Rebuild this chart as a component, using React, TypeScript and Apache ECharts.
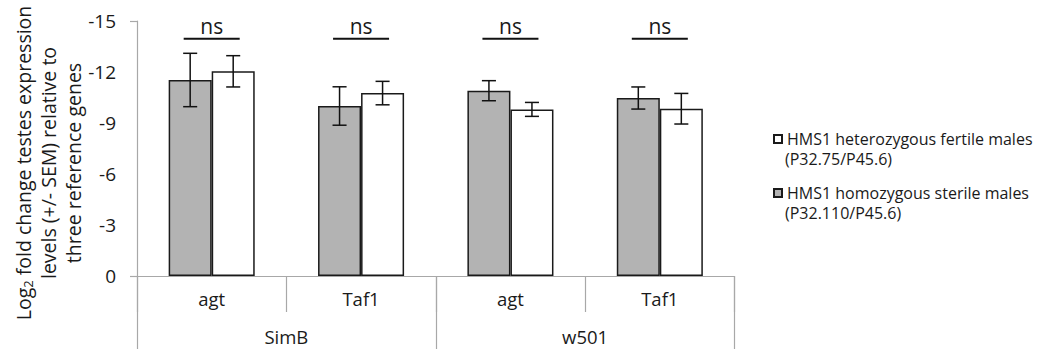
import React, { useEffect, useRef } from "react";
import * as echarts from "echarts";

const subCategories = ["agt", "Taf1", "agt", "Taf1"];
const groups = ["SimB", "w501"];
const yTicks = [-15, 0];

const sterileName = "HMS1 homozygous sterile males\n(P32.110/P45.6)";
const fertileName = "HMS1 heterozygous fertile males\n(P32.75/P45.6)";
const legendOrder = [fertileName, sterileName];

const sterileMeans = [-11.53, -10.0, -10.9, -10.47];
const sterileSem = [1.57, 1.13, 0.59, 0.65];
const fertileMeans = [-12.04, -10.76, -9.8, -9.84];
const fertileSem = [0.92, 0.69, 0.41, 0.9];

const nsLabels = ["ns", "ns", "ns", "ns"];

const FONT = "'Open Sans', sans-serif";
const TEXT = "#1a1a1a";
const AXIS = "#a8a8a8";

const LEGEND_TOP = 130;
const LEGEND_LINE = 18;
const LEGEND_STEP = 54;

function errorRenderer(offsetFrac: number) {
  return (params: any, api: any) => {
    const idx = api.value(0);
    const v = api.value(1);
    const e = api.value(2);
    const band = api.size([1, 0])[0];
    const cx = api.coord([idx, v])[0] + offsetFrac * band;
    const yTop = api.coord([idx, v - e])[1];
    const yBot = api.coord([idx, v + e])[1];
    const cap = band * 0.047;
    const style = { stroke: "#111", lineWidth: 1.5 };
    return {
      type: "group",
      children: [
        { type: "line", shape: { x1: cx, y1: yTop, x2: cx, y2: yBot }, style },
        { type: "line", shape: { x1: cx - cap, y1: yTop, x2: cx + cap, y2: yTop }, style },
        { type: "line", shape: { x1: cx - cap, y1: yBot, x2: cx + cap, y2: yBot }, style },
      ],
    };
  };
}

export default function App() {
  const ref = useRef<HTMLDivElement>(null);
  useEffect(() => {
    if (!ref.current) return;
    const chart = echarts.init(ref.current, undefined, { renderer: "svg" });
    const legendSecondLines = legendOrder.map((name, i) => ({
      type: "text",
      x: 785,
      y: LEGEND_TOP + LEGEND_LINE / 2 + 20 + i * LEGEND_STEP,
      style: {
        text: name.split("\n")[1],
        fontFamily: FONT,
        fontSize: 16,
        lineHeight: LEGEND_LINE,
        fill: TEXT,
        align: "left",
        verticalAlign: "middle",
      },
    }));
    const option: any = {
      animation: false,
      textStyle: { fontFamily: FONT, color: TEXT },
      grid: { left: 137, right: 305.5, top: 21, bottom: 73, containLabel: false },
      legend: {
        data: legendOrder,
        orient: "vertical",
        left: 773,
        top: LEGEND_TOP,
        padding: 0,
        itemGap: LEGEND_STEP - LEGEND_LINE,
        itemWidth: 8,
        itemHeight: 8,
        icon: "rect",
        selectedMode: false,
        formatter: (name: string) => name.split("\n")[0],
        textStyle: {
          fontFamily: FONT,
          fontSize: 16,
          lineHeight: LEGEND_LINE,
          color: TEXT,
        },
      },
      xAxis: [
        {
          type: "category",
          data: subCategories,
          position: "bottom",
          axisLine: { show: true, lineStyle: { color: AXIS, width: 1.2 } },
          axisTick: { show: true, interval: 0, alignWithLabel: false, length: 36, lineStyle: { color: AXIS, width: 1.2 } },
          axisLabel: { interval: 0, margin: 13, fontSize: 18.5, color: TEXT, fontFamily: FONT },
          splitLine: { show: false },
        },
        {
          type: "category",
          data: groups,
          position: "bottom",
          axisLine: { show: false },
          axisTick: { show: true, interval: 0, alignWithLabel: false, length: 73, lineStyle: { color: AXIS, width: 1.2 } },
          axisLabel: { interval: 0, margin: 51, fontSize: 18.5, color: TEXT, fontFamily: FONT },
          splitLine: { show: false },
        },
      ],
      yAxis: {
        type: "value",
        inverse: true,
        min: -15,
        max: 0,
        interval: 3,
        axisLine: { show: true, lineStyle: { color: AXIS, width: 1.2 } },
        axisTick: { show: true, length: 7, customValues: yTicks, lineStyle: { color: AXIS, width: 1.2 } },
        axisLabel: { margin: 21, fontSize: 19, color: TEXT, fontFamily: FONT },
        splitLine: { show: false },
      },
      graphic: [
        {
          type: "text",
          x: 48,
          y: 163,
          rotation: Math.PI / 2,
          style: {
            text: "Log{sub|2} fold change testes expression\nlevels (+/- SEM) relative to\nthree reference genes",
            fontFamily: FONT,
            fontSize: 19.5,
            lineHeight: 25,
            fill: TEXT,
            align: "center",
            verticalAlign: "middle",
            rich: {
              sub: { fontSize: 13, fontFamily: FONT, fill: TEXT, padding: [10, 0, 0, 0] },
            },
          },
        },
        ...legendSecondLines,
      ],
      series: [
        {
          name: sterileName,
          type: "bar",
          xAxisIndex: 0,
          data: sterileMeans,
          barWidth: "28.8%",
          barGap: "0%",
          itemStyle: { color: "#b3b3b3", borderColor: "#1a1a1a", borderWidth: 1.5 },
          z: 2,
        },
        {
          name: fertileName,
          type: "bar",
          xAxisIndex: 0,
          data: fertileMeans,
          barWidth: "28.8%",
          barGap: "0%",
          itemStyle: { color: "#ffffff", borderColor: "#1a1a1a", borderWidth: 1.5 },
          z: 2,
        },
        {
          type: "custom",
          xAxisIndex: 0,
          z: 5,
          renderItem: errorRenderer(-0.144),
          data: sterileMeans.map((m, i) => [i, m, sterileSem[i]]),
        },
        {
          type: "custom",
          xAxisIndex: 0,
          z: 5,
          renderItem: errorRenderer(0.144),
          data: fertileMeans.map((m, i) => [i, m, fertileSem[i]]),
        },
        {
          type: "custom",
          xAxisIndex: 0,
          z: 5,
          renderItem: (params: any, api: any) => {
            const idx = api.value(0);
            const band = api.size([1, 0])[0];
            const [cx, yText] = api.coord([idx, -14.7]);
            const yLine = api.coord([idx, -13.95])[1];
            const half = band * 0.1875;
            return {
              type: "group",
              children: [
                {
                  type: "text",
                  x: cx,
                  y: yText,
                  style: {
                    text: nsLabels[idx],
                    fontFamily: FONT,
                    fontSize: 21,
                    fill: TEXT,
                    align: "center",
                    verticalAlign: "middle",
                  },
                },
                {
                  type: "line",
                  shape: { x1: cx - half, y1: yLine, x2: cx + half, y2: yLine },
                  style: { stroke: "#111", lineWidth: 2 },
                },
              ],
            };
          },
          data: nsLabels.map((_, i) => [i, -14]),
        },
      ],
    };
    chart.setOption(option);
    return () => chart.dispose();
  }, []);
  return (
    <div
      ref={ref}
      style={{ position: "fixed", left: 0, top: 0, width: 1040, height: 349, background: "#fff" }}
    />
  );
}
